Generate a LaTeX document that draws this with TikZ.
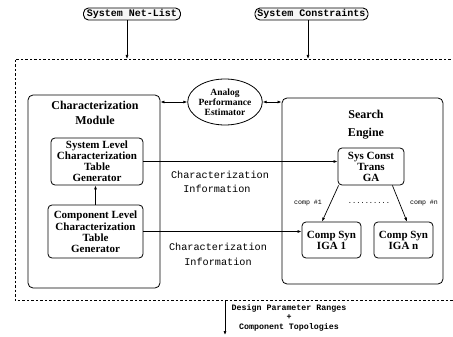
\documentclass[tikz,border=0pt]{standalone}
\usepackage{fontspec}
\setmainfont{Liberation Serif}
\setmonofont{Liberation Mono}
\usetikzlibrary{arrows.meta,shapes.geometric}
\begin{document}
\begin{tikzpicture}[x=1pt,y=-1pt,
  line width=0.7pt,
  arr/.style={-{Latex[length=4pt,width=3pt]}},
  darr/.style={{Latex[length=4pt,width=3pt]}-{Latex[length=4pt,width=3pt]}},
  topbox/.style={draw,rounded corners=5pt,line width=0.9pt,fill=gray!6,inner sep=0pt,
    font=\ttfamily\bfseries\fontsize{10}{10}\selectfont},
  bigbox/.style={draw,rounded corners=5pt,line width=0.8pt,inner sep=0pt},
  box/.style={draw,rounded corners=4pt,line width=0.8pt,align=center,inner sep=0pt,
    font=\bfseries\fontsize{11}{11}\selectfont},
  title/.style={align=center,inner sep=0pt,font=\bfseries\fontsize{12}{15}\selectfont},
  info/.style={inner sep=0pt,font=\ttfamily\fontsize{10.2}{14}\selectfont},
  small/.style={inner sep=0pt,font=\ttfamily\fontsize{6.6}{7}\selectfont},
  bottomtxt/.style={inner sep=0pt,align=center,font=\ttfamily\bfseries\fontsize{8.3}{9.5}\selectfont}]
\useasboundingbox (0,0) rectangle (453,337);

% top inputs
\node[topbox,minimum width=97,minimum height=12] (netlist) at (132,14) {System Net-List};
\node[topbox,minimum width=113,minimum height=12] (constr) at (311.5,14) {System Constraints};

% dashed enclosure
\draw[line width=0.6pt,dash pattern=on 2.5pt off 2pt] (455,59) -- (15,59) -- (15,300) -- (455,300);
\coordinate (inA) at (127,59);
\coordinate (inB) at (308,59);
\coordinate (outA) at (225,300);
\coordinate (outB) at (225,335);
\draw[arr] (netlist.south -| inA) -- (inA);
\draw[arr] (constr.south -| inB) -- (inB);
\draw[arr] (outA) -- (outB);

% characterization module
\node[bigbox,minimum width=132,minimum height=193] (charbox) at (94,191.5) {};
\node[title] (chartitle) at (95,113.2) {Characterization\\Module};
\node[box,minimum width=92,minimum height=47] (syslevel) at (97,161.5)
  {System Level\\Characterization\\Table\\Generator};
\node[box,minimum width=95,minimum height=53] (complevel) at (95.5,231.5)
  {Component Level\\[1.5pt]Characterization\\Table\\Generator};
\draw[arr] (complevel.north) -- (complevel.north |- syslevel.south);

% analog performance estimator
\node[draw,ellipse,line width=0.8pt,minimum width=64,minimum height=46,inner sep=0pt,align=center,
  font=\bfseries\fontsize{9.5}{10}\selectfont] (ape) at (225,102)
  {Analog\\Performance\\Estimator};

% search engine
\node[bigbox,minimum width=161,minimum height=186] (search) at (362.5,191) {};
\node[title,font=\bfseries\fontsize{12}{12}\selectfont] (searchtitle) at (366,124.5) {Search\\[5.7pt]Engine};
\node[box,minimum width=66,minimum height=37] (sysconst) at (371,166.5) {Sys Const\\Trans\\GA};
\node[box,minimum width=59,minimum height=36] (iga1) at (331.5,240) {Comp Syn\\IGA 1};
\node[box,minimum width=59,minimum height=36] (igan) at (403.5,240) {Comp Syn\\IGA n};

\draw[arr] ([xshift=1pt]sysconst.south west) -- ([xshift=-9.5pt]iga1.north);
\draw[arr] ([xshift=-12pt]sysconst.south east) -- ([xshift=3.5pt]igan.north);
\node[small] (c1) at (308,203) {comp \#1};
\node[small] (cn) at (424,203) {comp \#n};
\node[small,font=\ttfamily\fontsize{7}{7}\selectfont] (dots) at (369,203) {..........};

% connections
\draw[darr] (ape.west -| charbox.east) -- (ape.west);
\draw[darr] (ape.east) -- (ape.east -| search.west);
\draw[arr] (syslevel.east) -- (syslevel.east -| sysconst.west);
\draw[arr] (complevel.east) -- (complevel.east -| iga1.west);

\node[info,align=left] (info1) at (220,182) {Characterization\\\phantom{aa}Information};
\node[info,align=center,font=\ttfamily\fontsize{10.2}{15}\selectfont] (info2) at (218,254.5) {Characterization\\Information};

\node[bottomtxt] (outtxt) at (289,317.5) {Design Parameter Ranges\\+\\Component Topologies};
\end{tikzpicture}
\end{document}
